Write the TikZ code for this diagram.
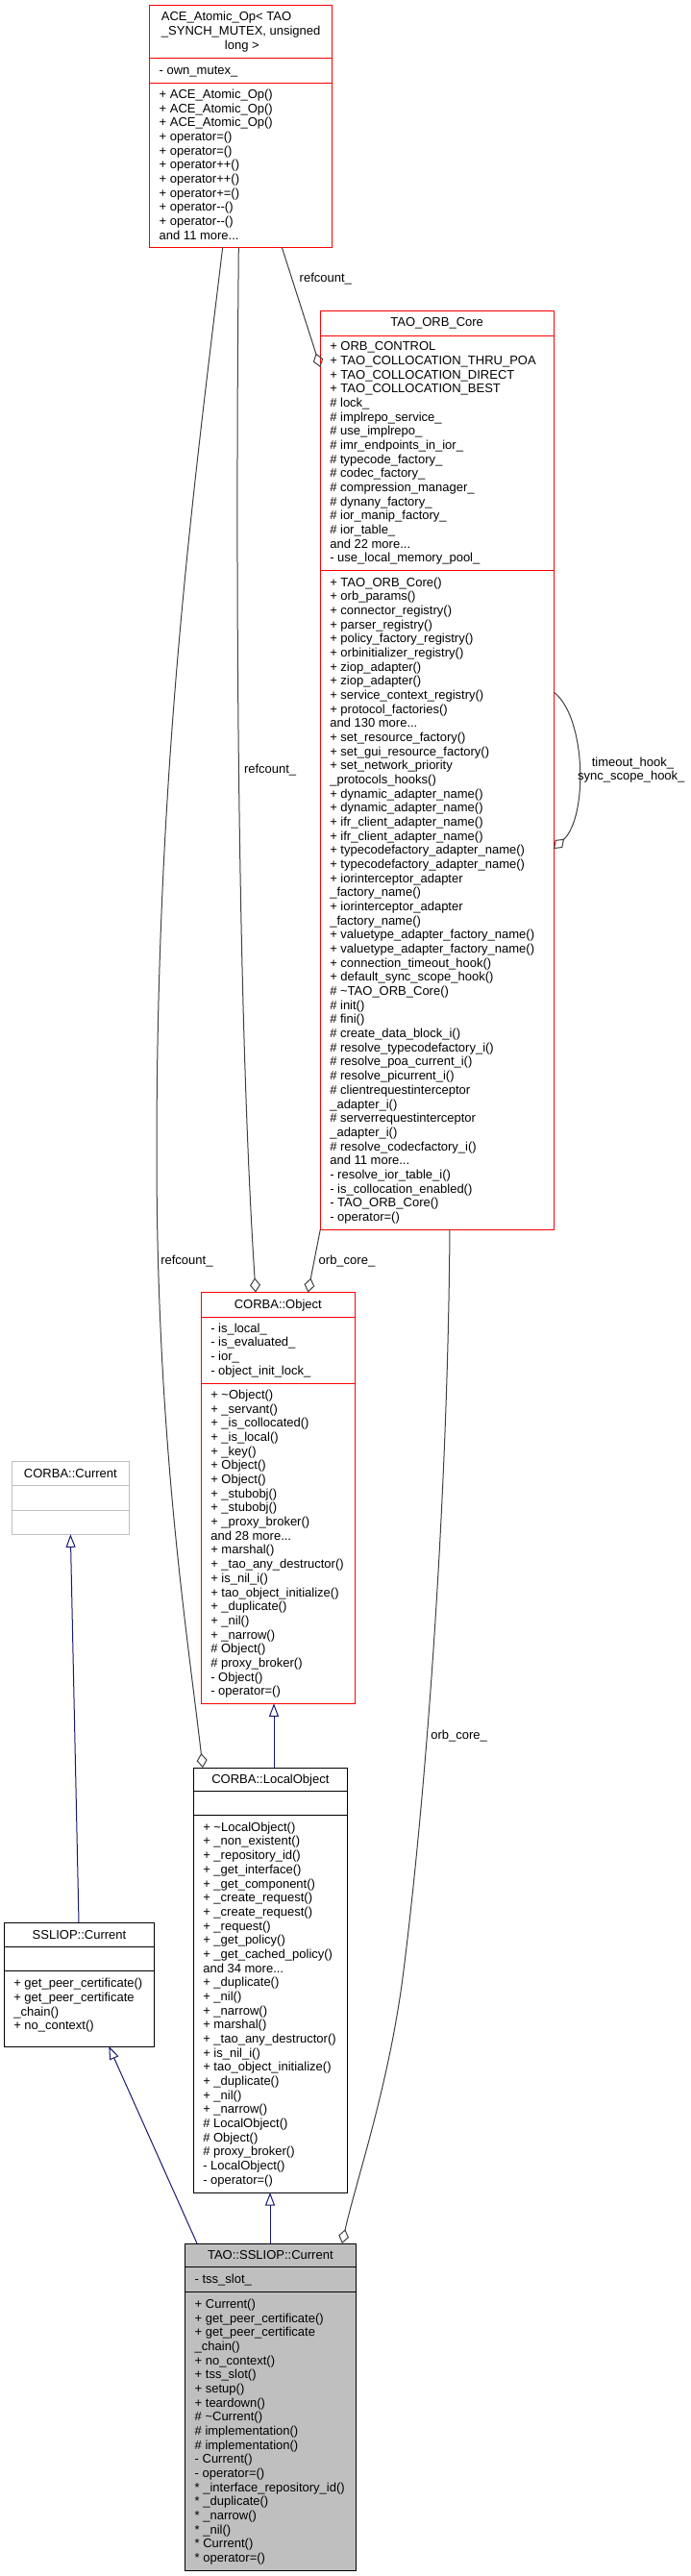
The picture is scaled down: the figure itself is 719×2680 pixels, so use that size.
\documentclass[tikz,border=0pt]{standalone}
\usepackage{fontspec}
\setmainfont{Liberation Sans}[Ligatures=TeXOff]
\usetikzlibrary{arrows.meta}
\definecolor{aggc}{HTML}{404040}
\definecolor{inhc}{HTML}{191970}
\definecolor{grayfill}{HTML}{BFBFBF}
\definecolor{boxred}{HTML}{FF0000}
\tikzset{
  box/.style={draw, line width=1pt, anchor=north west, inner sep=0pt, outer sep=0pt},
  sep/.style={line width=1pt},
  mem/.style={anchor=base west, inner sep=0pt, outer sep=0pt, font=\fontsize{13}{14.67}\selectfont},
  hdr/.style={anchor=base, inner sep=0pt, outer sep=0pt, font=\fontsize{13}{14.67}\selectfont},
  lbl/.style={anchor=base west, inner sep=0pt, outer sep=0pt, font=\fontsize{13}{14.67}\selectfont},
  agg/.style={draw=aggc, line width=1pt, -{Diamond[open, length=15pt, width=11pt]}},
  inh/.style={draw=inhc, line width=1pt, -{Triangle[open, length=13.5pt, width=10pt]}},
}
\newcommand\mdots{...}
\newcommand\members[4]{\foreach \mline [count=\mi from 0] in {#4} {\node[mem] (#1\mi) at (#2, {#3+\mi*14.67}) {\mline};}}
\begin{document}
\begin{tikzpicture}[x=1pt,y=-1pt]
\useasboundingbox (0,0) rectangle (719,2680);
\fill[white] (0,0) rectangle (719,2680);

% ---------- ACE_Atomic_Op ----------
\node[box, draw=boxred, minimum width=190pt, minimum height=251.6pt] (ace) at (155.7,5.7) {};
\draw[sep, boxred] (155.7,60.7) -- (345.7,60.7);
\draw[sep, boxred] (155.7,86) -- (345.7,86);
\node[hdr] (aceh1) at (235.5,21.8) {ACE\_Atomic\_Op< TAO};
\node[hdr] (aceh2) at (250.7,36.5) {\_SYNCH\_MUTEX, unsigned};
\node[hdr] (aceh3) at (251.8,51.2) {long >};
\members{acea}{165.7}{77.2}{- own\_mutex\_}
\members{acem}{165.7}{102.4}{+ ACE\_Atomic\_Op(), + ACE\_Atomic\_Op(), + ACE\_Atomic\_Op(), + operator=(), + operator=(), + operator++(), + operator++(), + operator+=(), + operator-{}-(), + operator-{}-(), and 11 more\mdots}

% ---------- TAO_ORB_Core ----------
\node[box, draw=boxred, minimum width=242.7pt, minimum height=955.7pt] (orb) at (333.3,323.3) {};
\draw[sep, boxred] (333.3,349) -- (576,349);
\draw[sep, boxred] (333.3,593.3) -- (576,593.3);
\node[hdr] (orbh) at (454.65,339.8) {TAO\_ORB\_Core};
\members{orba}{343.3}{364.8}{+ ORB\_CONTROL, + TAO\_COLLOCATION\_THRU\_POA, + TAO\_COLLOCATION\_DIRECT, + TAO\_COLLOCATION\_BEST, \# lock\_, \# implrepo\_service\_, \# use\_implrepo\_, \# imr\_endpoints\_in\_ior\_, \# typecode\_factory\_, \# codec\_factory\_, \# compression\_manager\_, \# dynany\_factory\_, \# ior\_manip\_factory\_, \# ior\_table\_, and 22 more\mdots, - use\_local\_memory\_pool\_}
\members{orbm}{343.3}{610.2}{+ TAO\_ORB\_Core(), + orb\_params(), + connector\_registry(), + parser\_registry(), + policy\_factory\_registry(), + orbinitializer\_registry(), + ziop\_adapter(), + ziop\_adapter(), + service\_context\_registry(), + protocol\_factories(), and 130 more\mdots, + set\_resource\_factory(), + set\_gui\_resource\_factory(), + set\_network\_priority, \_protocols\_hooks(), + dynamic\_adapter\_name(), + dynamic\_adapter\_name(), + ifr\_client\_adapter\_name(), + ifr\_client\_adapter\_name(), + typecodefactory\_adapter\_name(), + typecodefactory\_adapter\_name(), + iorinterceptor\_adapter, \_factory\_name(), + iorinterceptor\_adapter, \_factory\_name(), + valuetype\_adapter\_factory\_name(), + valuetype\_adapter\_factory\_name(), + connection\_timeout\_hook(), + default\_sync\_scope\_hook(), \# \textasciitilde TAO\_ORB\_Core(), \# init(), \# fini(), \# create\_data\_block\_i(), \# resolve\_typecodefactory\_i(), \# resolve\_poa\_current\_i(), \# resolve\_picurrent\_i(), \# clientrequestinterceptor, \_adapter\_i(), \# serverrequestinterceptor, \_adapter\_i(), \# resolve\_codecfactory\_i(), and 11 more\mdots, - resolve\_ior\_table\_i(), - is\_collocation\_enabled(), - TAO\_ORB\_Core(), - operator=()}

% ---------- CORBA::Object ----------
\node[box, draw=boxred, minimum width=160pt, minimum height=427.8pt] (obj) at (209.3,1344.5) {};
\draw[sep, boxred] (209.3,1370) -- (369.3,1370);
\draw[sep, boxred] (209.3,1439.3) -- (369.3,1439.3);
\node[hdr] (objh) at (289.3,1361) {CORBA::Object};
\members{obja}{219.3}{1386.2}{- is\_local\_, - is\_evaluated\_, - ior\_, - object\_init\_lock\_}
\members{objm}{219.3}{1455.6}{+ \textasciitilde Object(), + \_servant(), + \_is\_collocated(), + \_is\_local(), + \_key(), + Object(), + Object(), + \_stubobj(), + \_stubobj(), + \_proxy\_broker(), and 28 more\mdots, + marshal(), + \_tao\_any\_destructor(), + is\_nil\_i(), + tao\_object\_initialize(), + \_duplicate(), + \_nil(), + \_narrow(), \# Object(), \# proxy\_broker(), - Object(), - operator=()}

% ---------- CORBA::Current ----------
\node[box, draw=grayfill, minimum width=121.3pt, minimum height=75.9pt] (cur) at (12.7,1520.4) {};
\draw[sep, grayfill] (12.7,1545.7) -- (134,1545.7);
\draw[sep, grayfill] (12.7,1571) -- (134,1571);
\node[hdr] (curh) at (73.35,1537.3) {CORBA::Current};

% ---------- SSLIOP::Current ----------
\node[box, draw=black, minimum width=156.4pt, minimum height=129pt] (ssl) at (4.3,2000) {};
\draw[sep] (4.3,2025.3) -- (160.7,2025.3);
\draw[sep] (4.3,2050.7) -- (160.7,2050.7);
\node[hdr] (sslh) at (82.5,2017) {SSLIOP::Current};
\members{sslm}{14.3}{2067.8}{+ get\_peer\_certificate(), + get\_peer\_certificate, \_chain(), + no\_context()}

% ---------- CORBA::LocalObject ----------
\node[box, draw=black, minimum width=160.2pt, minimum height=442pt] (lobj) at (201.3,1839) {};
\draw[sep] (201.3,1863.7) -- (361.5,1863.7);
\draw[sep] (201.3,1888.7) -- (361.5,1888.7);
\node[hdr] (lobjh) at (281.4,1855.7) {CORBA::LocalObject};
\members{lobjm}{211.3}{1905.3}{+ \textasciitilde LocalObject(), + \_non\_existent(), + \_repository\_id(), + \_get\_interface(), + \_get\_component(), + \_create\_request(), + \_create\_request(), + \_request(), + \_get\_policy(), + \_get\_cached\_policy(), and 34 more\mdots, + \_duplicate(), + \_nil(), + \_narrow(), + marshal(), + \_tao\_any\_destructor(), + is\_nil\_i(), + tao\_object\_initialize(), + \_duplicate(), + \_nil(), + \_narrow(), \# LocalObject(), \# Object(), \# proxy\_broker(), - LocalObject(), - operator=()}

% ---------- TAO::SSLIOP::Current ----------
\node[box, draw=black, fill=grayfill, minimum width=177.3pt, minimum height=340pt] (tao) at (192.7,2334) {};
\draw[sep] (192.7,2358.7) -- (370,2358.7);
\draw[sep] (192.7,2384.7) -- (370,2384.7);
\node[hdr] (taoh) at (281.35,2350.6) {TAO::SSLIOP::Current};
\members{taoa}{202.7}{2375.3}{- tss\_slot\_}
\members{taom}{202.7}{2401.3}{+ Current(), + get\_peer\_certificate(), + get\_peer\_certificate, \_chain(), + no\_context(), + tss\_slot(), + setup(), + teardown(), \# \textasciitilde Current(), \# implementation(), \# implementation(), - Current(), - operator=(), * \_interface\_repository\_id(), * \_duplicate(), * \_narrow(), * \_nil(), * Current(), * operator=()}

% ---------- aggregation connectors ----------
\draw[agg] ([xshift=137.6pt]ace.south west) -- ([yshift=-58.7pt]orb.north west);
\draw[agg] ([xshift=92.6pt]ace.south west) .. controls (244,700) and (250,1100) .. ([xshift=56.7pt]obj.north west);
\draw[agg] ([xshift=76pt]ace.south west) .. controls (200,520) and (163,800) .. (163,1200) .. controls (163,1500) and (195,1700) .. ([xshift=9.7pt]lobj.north west);
\draw[agg] (orb.south west) -- ([xshift=111.2pt]obj.north west);
\draw[agg] ([yshift=-396.7pt]orb.north east) .. controls (610,745) and (612,850) .. ([yshift=-559.7pt]orb.north east);
\draw[agg] ([xshift=134.7pt]orb.south west) .. controls (466,1550) and (445,1850) .. (420,2050) .. controls (405,2170) and (370,2270) .. ([xshift=163.3pt]tao.north west);

% ---------- inheritance connectors ----------
\draw[inh] ([xshift=83.7pt]lobj.north west) -- ([xshift=75.7pt]obj.south west);
\draw[inh] ([xshift=88.3pt]tao.north west) -- ([xshift=79.7pt]lobj.south west);
\draw[inh] ([xshift=12.3pt]tao.north west) -- ([xshift=109pt]ssl.south west);
\draw[inh] ([xshift=77.7pt]ssl.north west) -- (cur.south);

% ---------- labels ----------
\node[lbl] (lab1) at (311.7,293.8) {refcount\_};
\node[lbl] (lab2) at (254,804.5) {refcount\_};
\node[lbl] (lab3) at (167.3,1315) {refcount\_};
\node[lbl] (lab4) at (331.7,1315) {orb\_core\_};
\node[lbl] (lab5) at (448.3,1809) {orb\_core\_};
\node[hdr] (lab6a) at (658.5,797.2) {timeout\_hook\_};
\node[hdr] (lab6b) at (656.8,811.8) {sync\_scope\_hook\_};
\end{tikzpicture}
\end{document}
